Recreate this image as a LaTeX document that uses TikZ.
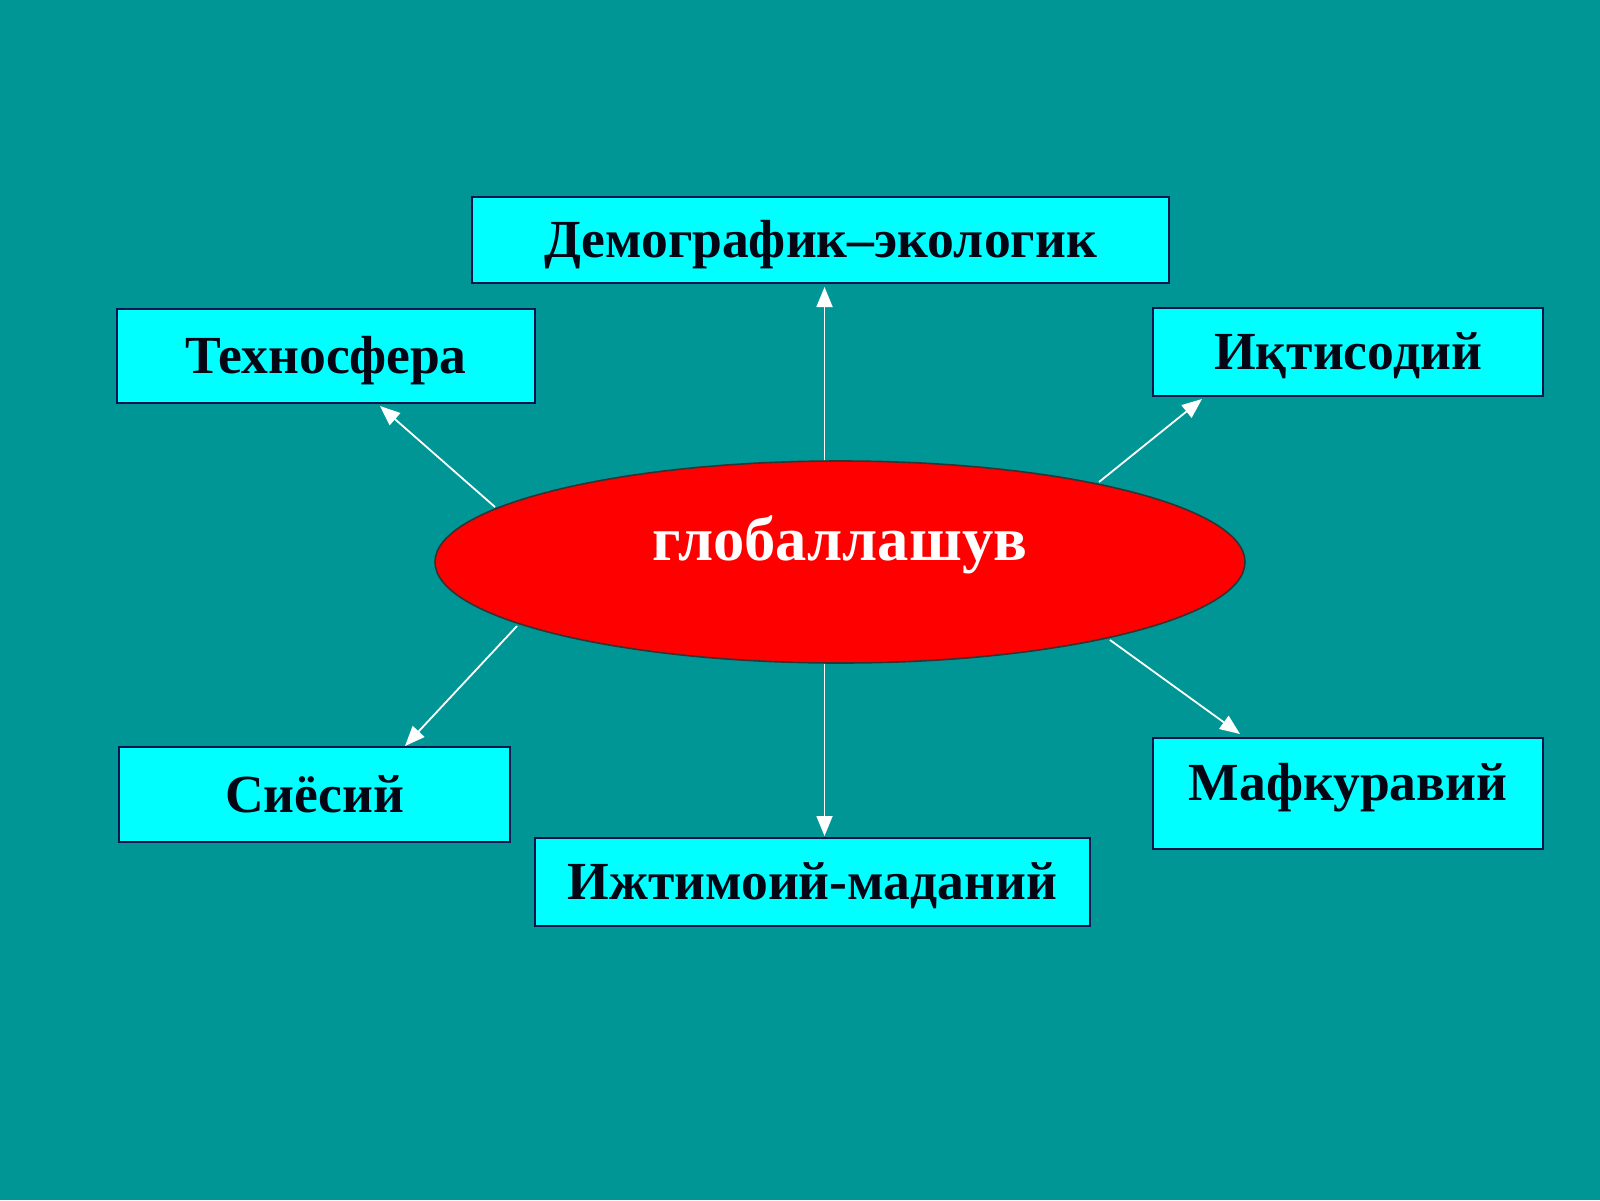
\documentclass[tikz,border=0pt]{standalone}
\usepackage{fontspec}
\setmainfont{Liberation Serif}
\usetikzlibrary{shapes.geometric,arrows.meta,calc}
\definecolor{bg}{RGB}{0,150,150}
\definecolor{boxfill}{RGB}{0,255,255}
\definecolor{boxline}{RGB}{10,20,70}
\definecolor{ellfill}{RGB}{255,0,0}
\definecolor{txt}{RGB}{5,5,20}
\tikzset{
  box/.style={rectangle, draw=boxline, fill=boxfill, line width=1pt, inner sep=0pt,
    text=txt, font=\bfseries\fontsize{26.8}{29}\selectfont,
    text height=17.7pt, text depth=0pt},
  hub/.style={ellipse, draw=black!80, fill=ellfill, line width=0.8pt, inner sep=0pt,
    text=white, font=\bfseries\fontsize{31.3}{34}\selectfont,
    minimum width=405pt, minimum height=101pt, text height=0pt, text depth=2pt},
  link/.style={draw=white, line width=0.9pt, -{Triangle[length=10pt,width=8pt]}}
}
\begin{document}
\begin{tikzpicture}[x=0.5pt,y=-0.5pt]
\path[use as bounding box, fill=bg] (0,0) rectangle (1600,1200);

\node[hub] (g) at (840,562) {глобаллашув};

\node[box, minimum width=348.5pt, minimum height=43pt] (demo) at (820.5,240) {Демографик–экологик};
\node[box, minimum width=209pt, minimum height=47pt] (tech) at (326,356) {Техносфера};
\node[box, minimum width=195pt, minimum height=44pt] (iqt) at (1348,352) {Иқтисодий};
\node[box, minimum width=195.5pt, minimum height=47.5pt] (siyo) at (314.5,794.5) {Сиёсий};
\node[box, minimum width=277.5pt, minimum height=44pt] (ijt) at (812.5,882) {Ижтимоий-маданий};
\node[box, minimum width=195pt, minimum height=55.5pt, text height=7.2pt] (maf) at (1348,793.5) {Мафкуравий};

\draw[link] ($(demo.south |- g.north)+(4,0)$) -- ($(demo.south)+(4,3)$);
\draw[link] ($(g.south)+(-15.5,0)$) -- ($(ijt.north)+(12,-1)$);
\draw[link] ($(g.center)+(-345,-55)$) -- ($(tech.south)+(54,2)$);
\draw[link] ($(g.center)+(259,-80)$) -- ($(iqt.south)+(-146,2)$);
\draw[link] ($(g.center)+(-323,64)$) -- ($(siyo.north)+(90.5,0)$);
\draw[link] ($(g.center)+(270,78)$) -- ($(maf.north)+(-108,-3)$);
\end{tikzpicture}
\end{document}
